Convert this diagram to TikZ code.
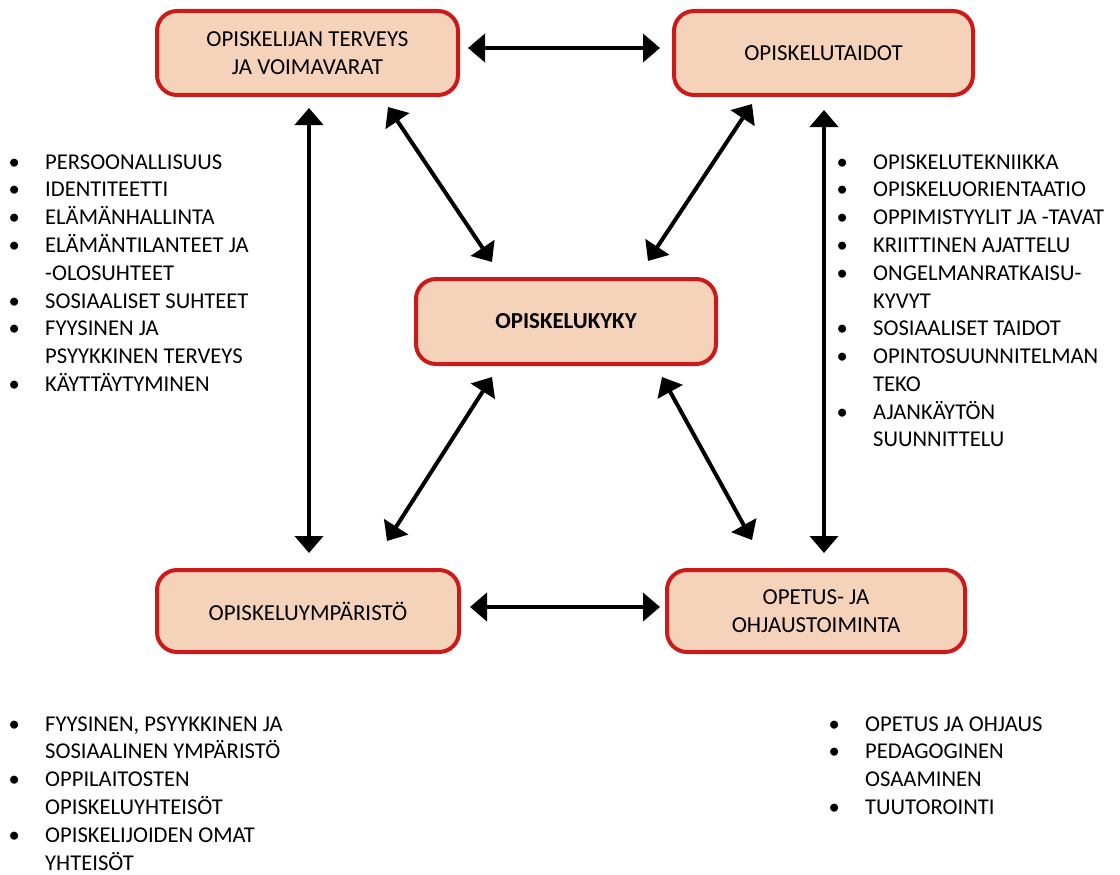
\documentclass[tikz,border=0pt]{standalone}
\usepackage{fontspec}
\setmainfont{Carlito}
\usetikzlibrary{arrows.meta}
\definecolor{boxred}{HTML}{CC1A1A}
\definecolor{boxfill}{HTML}{F5D2BA}
\newcommand{\bul}{\llap{\makebox[0pt]{•}\hspace{31pt}}}
\begin{document}
\begin{tikzpicture}[x=1pt,y=-1pt,
  box/.style={draw=boxred, fill=boxfill, line width=4pt, rounded corners=20pt,
    align=center, inner sep=0pt, font=\fontsize{22.9}{28}\selectfont},
  link/.style={line width=4pt,
    {Triangle[length=17pt,width=28pt]}-{Triangle[length=17pt,width=28pt]}},
  listbox/.style={anchor=base west, inner sep=0pt, font=\fontsize{22.6}{27.8}\selectfont}]
\useasboundingbox (0,0) rectangle (1120,875);

\node[box, minimum width=301pt, minimum height=84pt] (health) at (307.5,53)
  {OPISKELIJAN TERVEYS\\JA VOIMAVARAT};
\node[box, minimum width=299pt, minimum height=84pt] (skills) at (823.5,53)
  {OPISKELUTAIDOT};
\node[box, minimum width=300pt, minimum height=85pt] (core) at (566,321.5)
  {\bfseries OPISKELUKYKY};
\node[box, minimum width=302pt, minimum height=82pt] (env) at (308,611)
  {OPISKELUYMPÄRISTÖ};
\node[box, minimum width=298pt, minimum height=82pt] (teach) at (816,611)
  {OPETUS- JA\\OHJAUSTOIMINTA};

\draw[link] ([xshift=8pt,yshift=5pt]health.east) -- ([xshift=-12pt,yshift=5pt]skills.west);
\draw[link] ([xshift=9pt,yshift=4pt]env.east) -- ([xshift=-5pt,yshift=4pt]teach.west);
\draw[link] ([xshift=1.5pt,yshift=-11pt]health.south) -- ([xshift=1pt,yshift=15pt]env.north);
\draw[link] ([xshift=0.5pt,yshift=-13pt]skills.south) -- ([xshift=8pt,yshift=15pt]teach.north);
\draw[link] ([xshift=80.5pt,yshift=-10pt]health.south) -- ([xshift=-74pt,yshift=15pt]core.north);
\draw[link] ([xshift=-71.5pt,yshift=-7pt]skills.south) -- ([xshift=82pt,yshift=16pt]core.north);
\draw[link] ([xshift=-74pt,yshift=-11pt]core.south) -- ([xshift=79pt,yshift=27pt]env.north);
\draw[link] ([xshift=96pt,yshift=-11pt]core.south) -- ([xshift=-64pt,yshift=28pt]teach.north);

\node[listbox] (listhealth) at (45,169) {\begin{tabular}[t]{@{}l@{}}
\bul PERSOONALLISUUS\\
\bul IDENTITEETTI\\
\bul ELÄMÄNHALLINTA\\
\bul ELÄMÄNTILANTEET JA\\
-OLOSUHTEET\\
\bul SOSIAALISET SUHTEET\\
\bul FYYSINEN JA\\
PSYYKKINEN TERVEYS\\
\bul KÄYTTÄYTYMINEN
\end{tabular}};

\node[listbox] (listskills) at (873,169) {\begin{tabular}[t]{@{}l@{}}
\bul OPISKELUTEKNIIKKA\\
\bul OPISKELUORIENTAATIO\\
\bul OPPIMISTYYLIT JA -TAVAT\\
\bul KRIITTINEN AJATTELU\\
\bul ONGELMANRATKAISU-\\
KYVYT\\
\bul SOSIAALISET TAIDOT\\
\bul OPINTOSUUNNITELMAN\\
TEKO\\
\bul AJANKÄYTÖN\\
SUUNNITTELU
\end{tabular}};

\node[listbox] (listenv) at (45,731) {\begin{tabular}[t]{@{}l@{}}
\bul FYYSINEN, PSYYKKINEN JA\\
SOSIAALINEN YMPÄRISTÖ\\
\bul OPPILAITOSTEN\\
OPISKELUYHTEISÖT\\
\bul OPISKELIJOIDEN OMAT\\
YHTEISÖT
\end{tabular}};

\node[listbox] (listteach) at (865,731) {\begin{tabular}[t]{@{}l@{}}
\bul OPETUS JA OHJAUS\\
\bul PEDAGOGINEN\\
OSAAMINEN\\
\bul TUUTOROINTI
\end{tabular}};
\end{tikzpicture}
\end{document}
